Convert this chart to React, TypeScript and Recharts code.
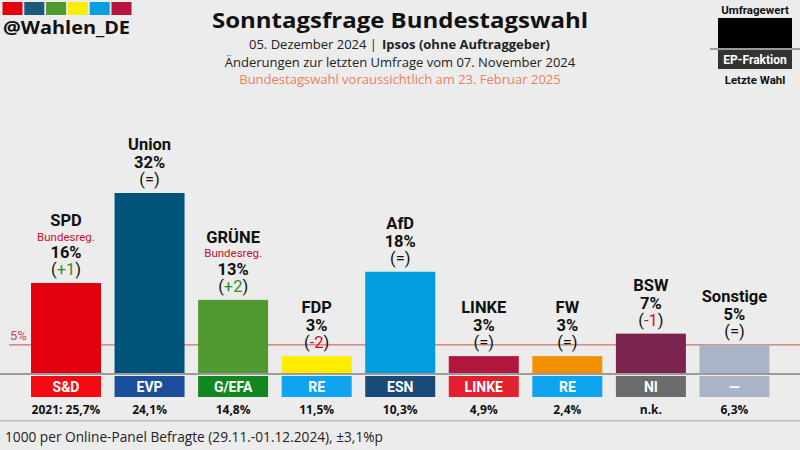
import { Bar, BarChart, LabelList, ReferenceLine, XAxis, YAxis } from "recharts";

const parties = ["SPD", "Union", "GRÜNE", "FDP", "AfD", "LINKE", "FW", "BSW", "Sonstige"];
const shares = [16, 32, 13, 3, 18, 3, 3, 7, 5];
const changes = ["+1", "=", "+2", "-2", "=", "=", "=", "-1", "="];
const inGovernment = [true, false, true, false, false, false, false, false, false];
const epGroups = ["S&D", "EVP", "G/EFA", "RE", "ESN", "LINKE", "RE", "NI", "—"];
const lastElection = ["2021: 25,7%", "24,1%", "14,8%", "11,5%", "10,3%", "4,9%", "2,4%", "n.k.", "6,3%"];

const barColors = ["#e3000f", "#00537a", "#509a2f", "#ffed00", "#009ee0", "#b1173f", "#f39200", "#7b2450", "#a9b4c6"];
const groupColors = ["#f40a10", "#1b4f9c", "#12871f", "#0fa4ef", "#1a4a78", "#e2202f", "#0fa4ef", "#6b6b6b", "#a9b4c6"];
const logoColors = ["#e3000f", "#1b5a7a", "#4e9a2e", "#ffed00", "#0aa0e0", "#b5173f"];

const data = parties.map((party, i) => ({ party, share: shares[i] }));

const LABEL_FONT = "Roboto, 'Noto Sans', sans-serif";
const OPEN = "'Open Sans', 'Noto Sans', sans-serif";

// rough glyph widths (em) for the change numbers
const glyphW: Record<string, number> = { "+": 0.57, "-": 0.28, "=": 0.55, "1": 0.56, "2": 0.56 };

function PartyBar(props: any) {
  const { x, y, width, height } = props;
  const i = parties.indexOf(props.payload?.party ?? props.party);
  const base = y + height;
  const cx = x + width / 2;
  return (
    <g>
      <rect x={x} y={y} width={width} height={height} fill={barColors[i]} />
      <rect x={x} y={base + 3} width={width} height={21} fill={groupColors[i]} />
      <text x={cx} y={base + 18.5} textAnchor="middle" fill="#fff" fontFamily={LABEL_FONT} fontWeight={700} fontSize={14}>
        {epGroups[i]}
      </text>
      <text x={cx} y={base + 40.5} textAnchor="middle" fill="#111" fontFamily={OPEN} fontWeight={700} fontSize={12}>
        {lastElection[i]}
      </text>
    </g>
  );
}

function TopLabel(props: any) {
  const { x, y, width, value } = props;
  const i = parties.indexOf(value);
  const cx = x + width / 2;
  const ch = changes[i];
  const chColor = ch.startsWith("+") ? "#2f8f2f" : ch.startsWith("-") ? "#d0101e" : "#111";
  const reg = inGovernment[i];
  const fs = 16.5;
  const half = (ch.split("").reduce((s, c) => s + (glyphW[c] ?? 0.56), 0) * fs) / 2;
  return (
    <g fontFamily={LABEL_FONT}>
      <text x={cx} y={y - (reg ? 57 : 43)} textAnchor="middle" fontSize={fs} fontWeight={700} fill="#111">
        {parties[i]}
      </text>
      {reg && (
        <text x={cx} y={y - 42.5} textAnchor="middle" fontSize={11.5} fill="#c8102e">
          Bundesreg.
        </text>
      )}
      <text x={cx} y={y - 25} textAnchor="middle" fontSize={fs} fontWeight={700} fill="#111">
        {shares[i]}%
      </text>
      <text x={cx - half} y={y - 8} textAnchor="end" fontSize={fs} fill="#111">
        (
      </text>
      <text x={cx} y={y - 8} textAnchor="middle" fontSize={fs} fill={chColor}>
        {ch}
      </text>
      <text x={cx + half} y={y - 8} textAnchor="start" fontSize={fs} fill="#111">
        )
      </text>
    </g>
  );
}

function FivePercentLine(props: any) {
  const y = props.y1 ?? props.y;
  return (
    <g>
      <line x1={9} x2={800} y1={y} y2={y} stroke="#c9524f" strokeWidth={1} />
      <text x={10} y={y - 5} fill="#c0504d" fontFamily={LABEL_FONT} fontSize={13}>
        5%
      </text>
    </g>
  );
}

function BaseLine(props: any) {
  const y = (props.y1 ?? props.y) + 1;
  return <line x1={0} x2={800} y1={y} y2={y} stroke="#9b9b9b" strokeWidth={2} />;
}

function Decorations() {
  return (
    <svg width={800} height={450} style={{ position: "absolute", left: 0, top: 0 }}>
      {logoColors.map((c, i) => (
        <rect key={c} x={2.5 + i * 21.8} y={2} width={20} height={13} fill={c} />
      ))}
      <text x={3} y={33.5} fontFamily={OPEN} fontWeight={700} fontSize={18} fill="#111" textLength={127} lengthAdjust="spacingAndGlyphs">
        @Wahlen_DE
      </text>

      <text x={400} y={28} textAnchor="middle" fontFamily={OPEN} fontWeight={700} fontSize={22} fill="#111" textLength={376} lengthAdjust="spacingAndGlyphs">
        Sonntagsfrage Bundestagswahl
      </text>
      <text x={377} y={48.5} textAnchor="end" fontFamily={OPEN} fontSize={13} fill="#222">
        05. Dezember 2024 |
      </text>
      <text x={382} y={48.5} textAnchor="start" fontFamily={OPEN} fontWeight={700} fontSize={13} fill="#222">
        Ipsos (ohne Auftraggeber)
      </text>
      <text x={400} y={66.5} textAnchor="middle" fontFamily={OPEN} fontSize={13} fill="#222">
        Änderungen zur letzten Umfrage vom 07. November 2024
      </text>
      <text x={400} y={84} textAnchor="middle" fontFamily={OPEN} fontSize={13} fill="#ee7f5f">
        Bundestagswahl voraussichtlich am 23. Februar 2025
      </text>

      <text x={755} y={14} textAnchor="middle" fontFamily={LABEL_FONT} fontWeight={700} fontSize={11.5} fill="#111">
        Umfragewert
      </text>
      <rect x={718} y={18} width={74} height={30} fill="#000" />
      <line x1={710} x2={800} y1={49} y2={49} stroke="#9b9b9b" strokeWidth={2} />
      <rect x={718} y={50} width={74} height={19} fill="#333" />
      <text x={755} y={64} textAnchor="middle" fontFamily={LABEL_FONT} fontWeight={700} fontSize={12} fill="#fff">
        EP-Fraktion
      </text>
      <text x={755} y={84} textAnchor="middle" fontFamily={LABEL_FONT} fontWeight={700} fontSize={11.5} fill="#111">
        Letzte Wahl
      </text>

      <rect x={0} y={420} width={800} height={1.5} fill="#bdbdbd" />
      <text x={5} y={442} fontFamily={OPEN} fontSize={13.7} fill="#222">
        1000 per Online-Panel Befragte (29.11.-01.12.2024), ±3,1%p
      </text>
    </svg>
  );
}

export default function App() {
  return (
    <div style={{ position: "absolute", left: 0, top: 0, width: 800, height: 450, background: "#ececec", overflow: "hidden" }}>
      <Decorations />
      <div style={{ position: "absolute", left: 0, top: 0 }}>
        <BarChart width={800} height={450} data={data} margin={{ top: 148, right: 24, bottom: 77, left: 24 }}>
          <XAxis dataKey="party" hide />
          <YAxis hide domain={[0, 40]} />
          <ReferenceLine y={5} shape={FivePercentLine} zIndex={-1} ifOverflow="visible" />
          <ReferenceLine y={0} shape={BaseLine} ifOverflow="visible" />
          <Bar dataKey="share" barSize={70} shape={PartyBar} isAnimationActive={false}>
            <LabelList dataKey="party" content={TopLabel} />
          </Bar>
        </BarChart>
      </div>
    </div>
  );
}
